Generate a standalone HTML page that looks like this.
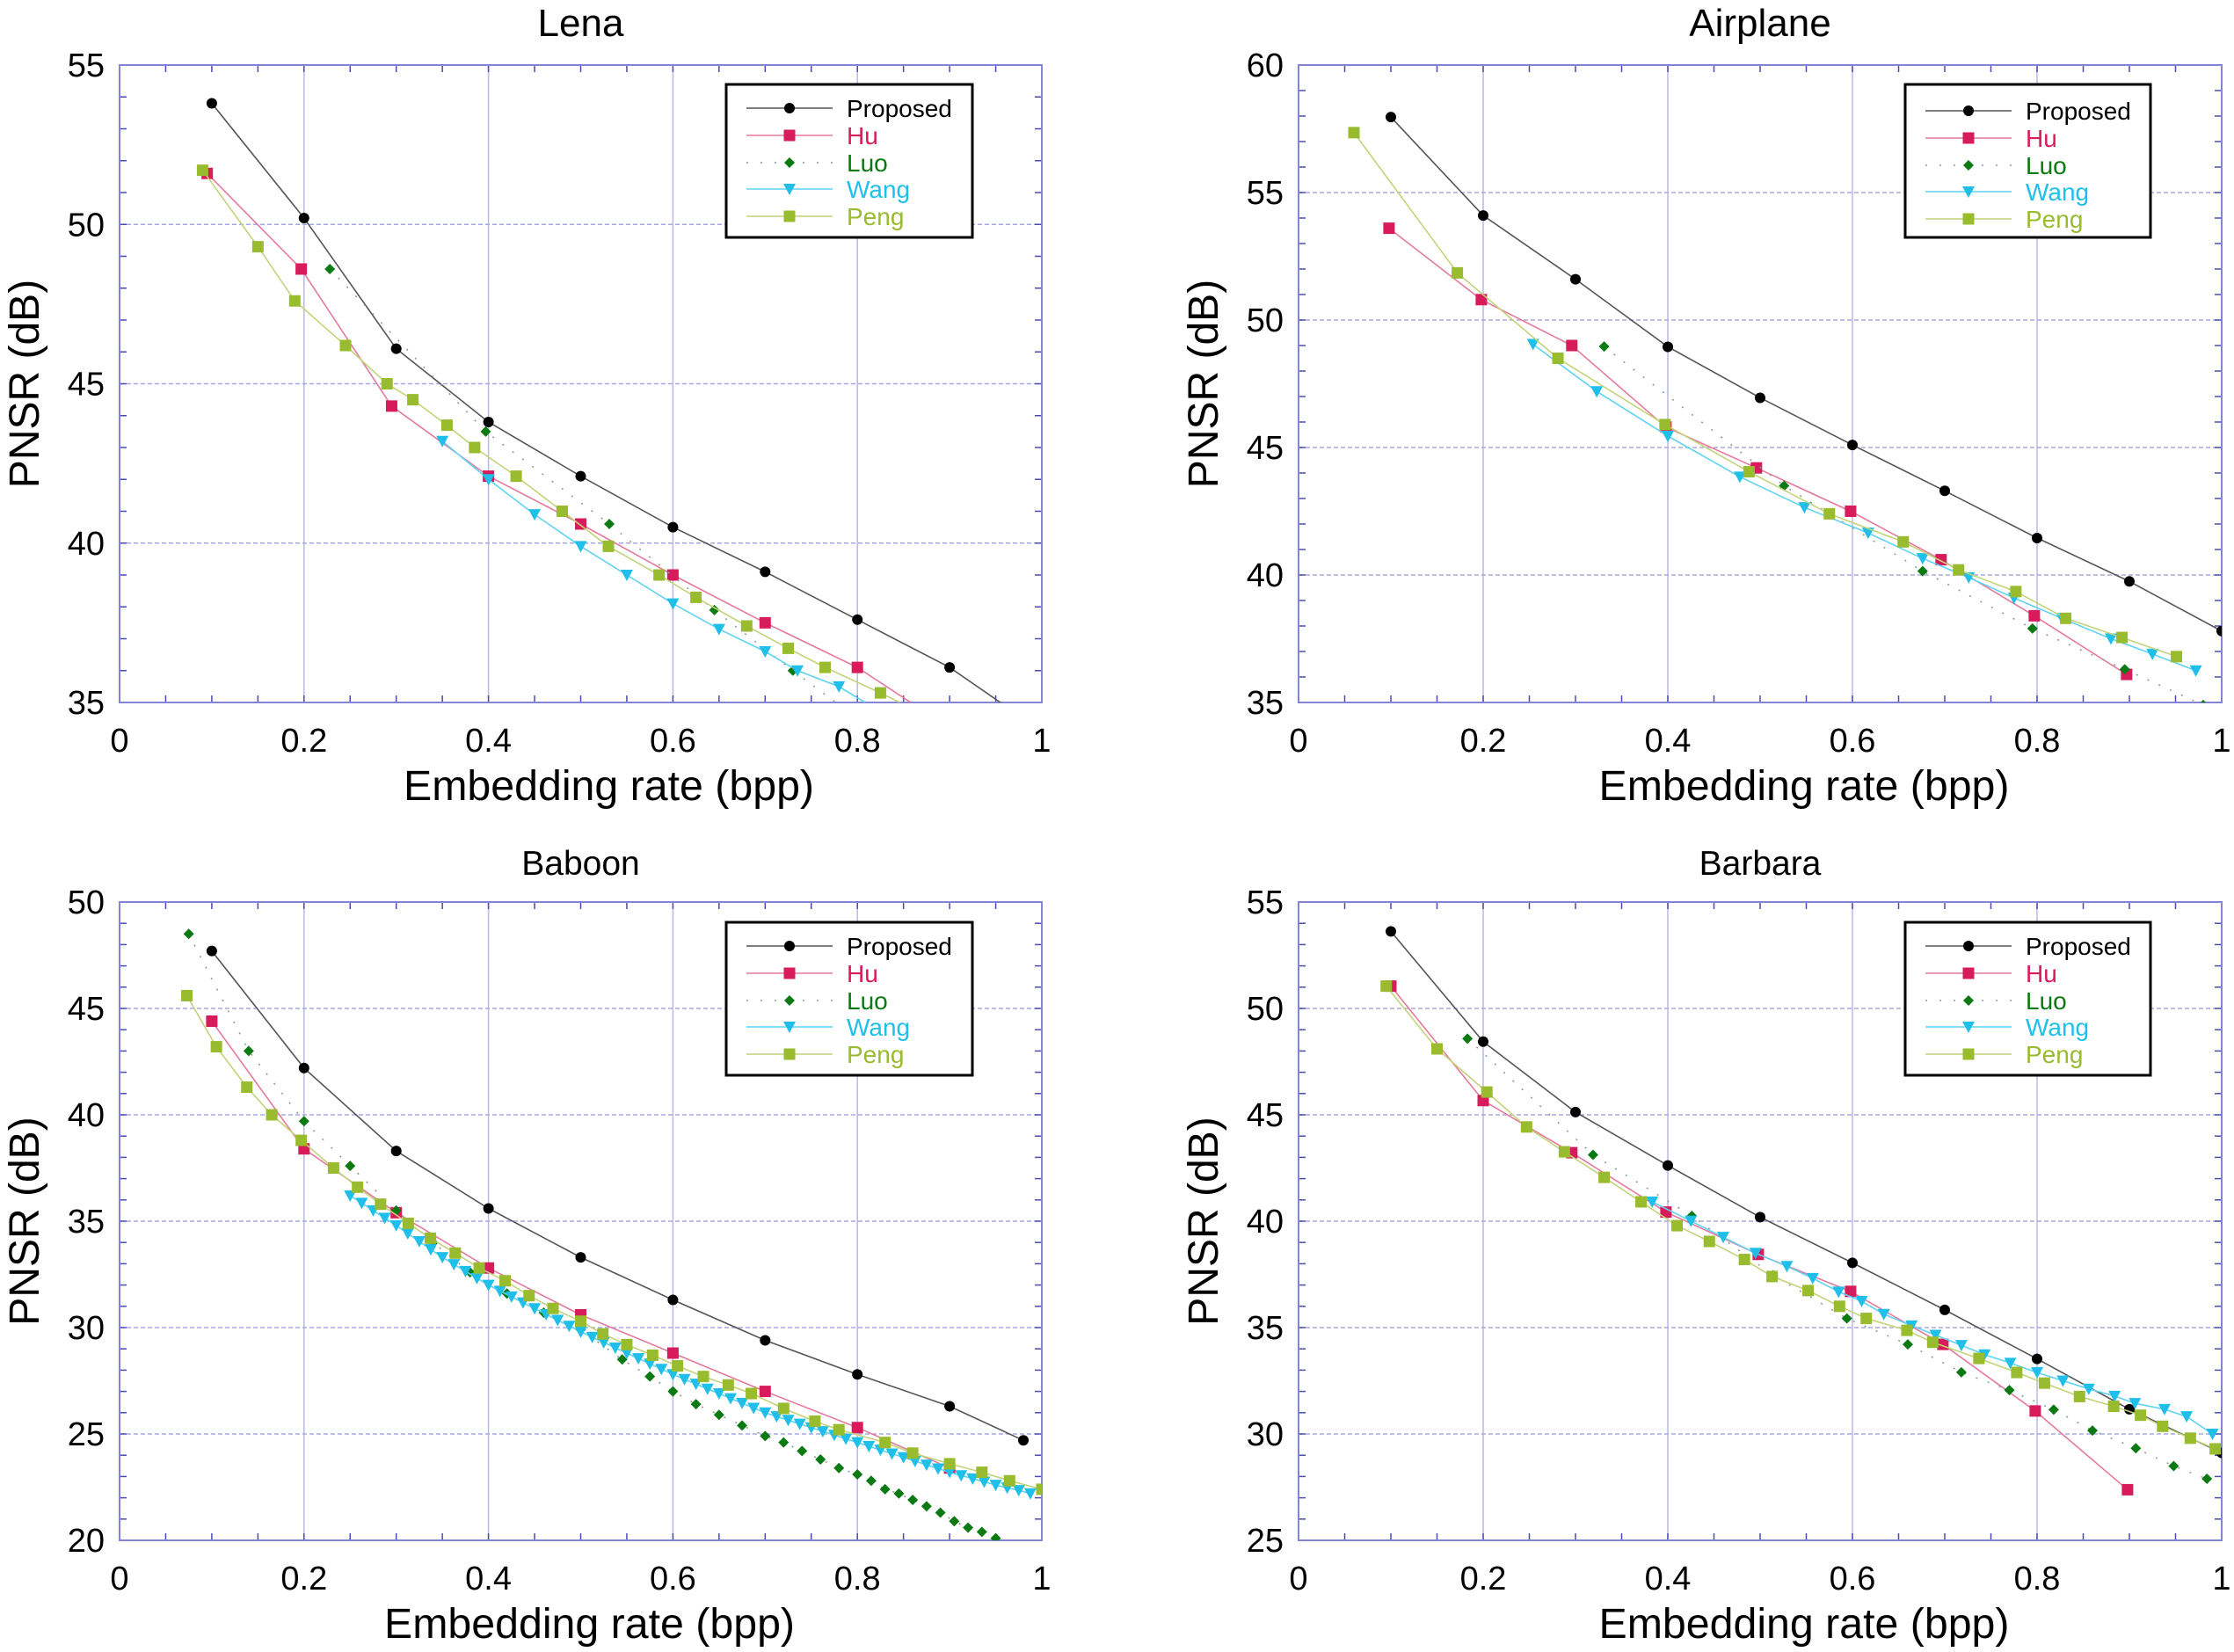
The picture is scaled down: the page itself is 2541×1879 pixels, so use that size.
<!DOCTYPE html>
<html><head><meta charset="utf-8"><style>
html,body{margin:0;padding:0;background:#fff;}
svg{display:block;font-family:"Liberation Sans",Arial,sans-serif;}
</style></head><body>
<svg id="chart" width="2541" height="1879" viewBox="0 0 2541 1879" xmlns="http://www.w3.org/2000/svg"></svg>
<script>
// ---------- DATA ----------
const seriesNames = ["Proposed","Hu","Luo","Wang","Peng"];
// Lena
const lenaProposedX=[0.1,0.2,0.3,0.4,0.5,0.6,0.7,0.8,0.9,1.0];
const lenaProposedY=[53.8,50.2,46.1,43.8,42.1,40.5,39.1,37.6,36.1,34.1];
const lenaHuX=[0.095,0.197,0.295,0.4,0.5,0.6,0.7,0.8,0.9];
const lenaHuY=[51.6,48.6,44.3,42.1,40.6,39.0,37.5,36.1,34.2];
const lenaLuoX=[0.228,0.397,0.531,0.645,0.73,0.8];
const lenaLuoY=[48.6,43.5,40.6,37.9,36.0,34.5];
const lenaWangX=[0.35,0.4,0.45,0.5,0.55,0.6,0.65,0.7,0.735,0.78,0.82];
const lenaWangY=[43.2,42.0,40.9,39.9,39.0,38.1,37.3,36.6,36.0,35.5,34.8];
const lenaPengX=[0.09,0.15,0.19,0.245,0.29,0.318,0.355,0.385,0.43,0.48,0.53,0.585,0.625,0.68,0.725,0.765,0.825,0.86];
const lenaPengY=[51.7,49.3,47.6,46.2,45.0,44.5,43.7,43.0,42.1,41.0,39.9,39.0,38.3,37.4,36.7,36.1,35.3,34.8];
// Airplane
const airProposedX=[0.1,0.2,0.3,0.4,0.5,0.6,0.7,0.8,0.9,1.0];
const airProposedY=[57.96,54.1,51.6,48.95,46.95,45.1,43.3,41.45,39.75,37.8];
const airHuX=[0.098,0.198,0.296,0.398,0.496,0.598,0.696,0.797,0.897];
const airHuY=[53.6,50.8,49.0,45.8,44.2,42.5,40.6,38.4,36.1];
const airLuoX=[0.331,0.526,0.676,0.795,0.895,0.98];
const airLuoY=[48.96,43.5,40.15,37.9,36.3,34.9];
const airWangX=[0.254,0.323,0.4,0.478,0.548,0.617,0.676,0.726,0.775,0.827,0.88,0.925,0.972];
const airWangY=[49.05,47.2,45.45,43.85,42.65,41.65,40.65,39.9,39.1,38.3,37.5,36.9,36.25];
const airPengX=[0.06,0.172,0.281,0.397,0.488,0.575,0.655,0.715,0.777,0.831,0.892,0.951];
const airPengY=[57.35,51.85,48.5,45.9,44.05,42.4,41.3,40.2,39.35,38.3,37.55,36.8];
// Baboon
const babProposedX=[0.1,0.2,0.3,0.4,0.5,0.6,0.7,0.8,0.9,0.98];
const babProposedY=[47.7,42.2,38.3,35.6,33.3,31.3,29.4,27.8,26.3,24.7];
const babHuX=[0.1,0.2,0.3,0.4,0.5,0.6,0.7,0.8,0.9];
const babHuY=[44.4,38.4,35.4,32.8,30.6,28.8,27.0,25.3,23.4];
const babLuoX=[0.075,0.14,0.2,0.25,0.3,0.34,0.38,0.42,0.46,0.5,0.545,0.575,0.6,0.625,0.65,0.675,0.7,0.72,0.74,0.76,0.78,0.8,0.815,0.83,0.845,0.86,0.875,0.89,0.905,0.92,0.935,0.95];
const babLuoY=[48.5,43.0,39.7,37.6,35.5,34.0,32.6,31.6,30.7,29.9,28.5,27.7,27.0,26.4,25.9,25.4,24.9,24.6,24.2,23.8,23.4,23.1,22.8,22.4,22.2,21.9,21.6,21.3,20.9,20.6,20.4,20.1];
const babWangX=[0.25,0.2625,0.275,0.2875,0.3,0.3125,0.325,0.3375,0.35,0.3625,0.375,0.3875,0.4,0.4125,0.425,0.4375,0.45,0.4625,0.475,0.4875,0.5,0.5125,0.525,0.5375,0.55,0.5625,0.575,0.5875,0.6,0.6125,0.625,0.6375,0.65,0.6625,0.675,0.6875,0.7,0.7125,0.725,0.7375,0.75,0.7625,0.775,0.7875,0.8,0.8125,0.825,0.8375,0.85,0.8625,0.875,0.8875,0.9,0.9125,0.925,0.9375,0.95,0.9625,0.975,0.9875];
const babWangY=[36.2,35.85,35.5,35.15,34.8,34.42,34.05,33.67,33.3,32.97,32.65,32.32,32.0,31.72,31.45,31.17,30.9,30.62,30.35,30.07,29.8,29.55,29.3,29.05,28.8,28.55,28.3,28.05,27.8,27.57,27.35,27.12,26.9,26.67,26.45,26.22,26.0,25.82,25.65,25.47,25.3,25.12,24.95,24.77,24.6,24.42,24.25,24.07,23.9,23.72,23.55,23.37,23.2,23.05,22.9,22.75,22.6,22.47,22.35,22.2];
const babPengX=[0.073,0.105,0.138,0.165,0.197,0.232,0.258,0.283,0.313,0.337,0.364,0.39,0.418,0.444,0.47,0.5,0.524,0.55,0.578,0.605,0.633,0.66,0.685,0.72,0.754,0.78,0.83,0.86,0.9,0.935,0.965,1.0];
const babPengY=[45.6,43.2,41.3,40.0,38.8,37.5,36.6,35.8,34.9,34.2,33.5,32.8,32.2,31.5,30.9,30.3,29.7,29.2,28.7,28.2,27.7,27.3,26.9,26.2,25.6,25.2,24.6,24.1,23.6,23.2,22.8,22.4];
// Barbara
const barProposedX=[0.1,0.2,0.3,0.4,0.5,0.6,0.7,0.8,0.9,1.0];
const barProposedY=[53.62,48.44,45.13,42.62,40.19,38.04,35.83,33.53,31.16,29.11];
const barHuX=[0.1,0.2,0.296,0.398,0.498,0.598,0.698,0.798,0.898];
const barHuY=[51.05,45.67,43.22,40.43,38.44,36.7,34.21,31.08,27.38];
const barLuoX=[0.183,0.319,0.426,0.514,0.594,0.66,0.718,0.77,0.818,0.86,0.907,0.948,0.984];
const barLuoY=[48.58,43.12,40.25,37.46,35.43,34.21,32.9,32.06,31.14,30.16,29.33,28.49,27.89];
const barWangX=[0.383,0.425,0.46,0.495,0.529,0.557,0.585,0.61,0.634,0.664,0.69,0.718,0.743,0.771,0.8,0.828,0.856,0.884,0.906,0.938,0.962,0.99];
const barWangY=[40.91,40.01,39.25,38.5,37.88,37.32,36.68,36.24,35.63,35.09,34.65,34.17,33.73,33.33,32.89,32.5,32.12,31.78,31.44,31.16,30.82,30.0];
const barPengX=[0.095,0.15,0.204,0.247,0.288,0.331,0.371,0.41,0.445,0.483,0.513,0.552,0.586,0.615,0.659,0.687,0.737,0.778,0.808,0.846,0.883,0.912,0.936,0.966,0.993];
const barPengY=[51.05,48.1,46.07,44.43,43.26,42.06,40.91,39.79,39.05,38.2,37.4,36.74,36.0,35.43,34.87,34.31,33.55,32.89,32.39,31.76,31.3,30.88,30.36,29.8,29.3];

const lenaYTicks=[35,40,45,50,55];
const airYTicks=[35,40,45,50,55,60];
const babYTicks=[20,25,30,35,40,45,50];
const barYTicks=[25,30,35,40,45,50,55];
const xTicks=[0,0.2,0.4,0.6,0.8,1];
const xTickLabels=["0","0.2","0.4","0.6","0.8","1"];

// ---------- DRAW ----------
const NS="http://www.w3.org/2000/svg";
const svg=document.getElementById('chart');
const colors={Proposed:"#000000",Hu:"#d81b5a",Luo:"#0b7a12",Wang:"#1fbfea",Peng:"#99bb2e"};
const lineColors={Proposed:"#555555",Hu:"#e57a9c",Luo:"#7aa47a",Wang:"#5fd3f2",Peng:"#c2d47a"};
const markers={Proposed:"circle",Hu:"square",Luo:"diamond",Wang:"triangle",Peng:"square"};

function mk(tag,attrs,parent){const e=document.createElementNS(NS,tag);for(const k in attrs)e.setAttribute(k,attrs[k]);(parent||svg).appendChild(e);return e;}

function drawMarker(g,type,x,y,color){
  let m;
  if(type==="circle") m=mk('circle',{cx:x,cy:y,r:6,fill:color},g);
  else if(type==="square") m=mk('rect',{x:x-6.5,y:y-6.5,width:13,height:13,fill:color},g);
  else if(type==="diamond") m=mk('polygon',{points:`${x},${y-6} ${x+6},${y} ${x},${y+6} ${x-6},${y}`,fill:color},g);
  else m=mk('polygon',{points:`${x-7},${y-6} ${x+7},${y-6} ${x},${y+7}`,fill:color},g);
  return m;
}

function panel(id,title,titleSize,titleY,box,yMin,yMax,yTicks,series,legend,xlOff){
  const [L,T,R,B]=box;
  const sx=v=>L+(v-0)*(R-L);
  const sy=v=>B-(v-yMin)/(yMax-yMin)*(B-T);
  const g=mk('g',{});
  
  
  const clipId='clip-'+id;
  const cp=mk('clipPath',{id:clipId},g);mk('rect',{x:L,y:T,width:R-L,height:B-T},cp);
  xTicks.forEach(t=>{ if(t>0&&t<1){const l=mk('line',{x1:sx(t),x2:sx(t),y1:T,y2:B,stroke:"#b9b9e6","stroke-width":1.5},g);
    }});
  yTicks.forEach(t=>{ if(t>yMin&&t<yMax){const l=mk('line',{x1:L,x2:R,y1:sy(t),y2:sy(t),stroke:"#a8a8e0","stroke-width":1.5,"stroke-dasharray":"5,3"},g);
    }});
  for(let i=1;i<20;i++){const x=sx(i*0.05);
    mk('line',{x1:x,x2:x,y1:B,y2:B-8,stroke:"#4a4ab0","stroke-width":1.5},g);
    mk('line',{x1:x,x2:x,y1:T,y2:T+8,stroke:"#4a4ab0","stroke-width":1.5},g);}
  for(let v=yMin+1;v<yMax;v++){const y=sy(v);
    mk('line',{x1:L,x2:L+8,y1:y,y2:y,stroke:"#4a4ab0","stroke-width":1.5},g);
    mk('line',{x1:R,x2:R-8,y1:y,y2:y,stroke:"#4a4ab0","stroke-width":1.5},g);}
  const fr=mk('rect',{x:L,y:T,width:R-L,height:B-T,fill:"none",stroke:"#8484d4","stroke-width":2},g);
  
  xTicks.forEach((t,i)=>{const tx=mk('text',{x:sx(t),y:B+56,"font-size":38,"text-anchor":"middle",fill:"#000"},g);tx.textContent=xTickLabels[i];
    });
  yTicks.forEach(t=>{const tx=mk('text',{x:L-17,y:sy(t)+13,"font-size":38,"text-anchor":"end",fill:"#000"},g);tx.textContent=String(t);
    });
  const tt=mk('text',{x:(L+R)/2,y:titleY,"font-size":titleSize,"text-anchor":"middle",fill:"#000"},g);tt.textContent=title;
  
  const xl=mk('text',{x:(L+R)/2+xlOff,y:B+111,"font-size":48,"text-anchor":"middle",fill:"#000",textLength:467,lengthAdjust:"spacingAndGlyphs"},g);xl.textContent="Embedding rate (bpp)";
  
  const yx=L-92,yy=(T+B)/2;
  const yl=mk('text',{x:yx,y:yy,"font-size":48,"text-anchor":"middle",fill:"#000",transform:`rotate(-90 ${yx} ${yy})`},g);yl.textContent="PNSR (dB)";
  
  const sg=mk('g',{"clip-path":`url(#${clipId})`},g);
  seriesNames.forEach(name=>{
    const [xs,ys]=series[name];
    const pts=xs.map((x,i)=>`${sx(x).toFixed(1)},${sy(ys[i]).toFixed(1)}`).join(' ');
    const attrs={points:pts,fill:"none",stroke:lineColors[name],"stroke-width":1.6};
    if(name==="Luo"){attrs["stroke-dasharray"]="2,12";attrs.stroke="#8aa08a";}
    const pl=mk('polyline',attrs,sg);
    
    
    xs.forEach((x,i)=>{const m=drawMarker(sg,markers[name],sx(x),sy(ys[i]),colors[name]);
      
      });
  });
  const [lx,ly,lw,lh,rows]=legend;
  const lg=mk('g',{},g);
  
  mk('rect',{x:lx,y:ly,width:lw,height:lh,fill:"#fff",stroke:"#000","stroke-width":3},lg);
  seriesNames.forEach((name,i)=>{
    const y=ly+rows[i];
    const la={x1:lx+23,x2:lx+121,y1:y,y2:y,stroke:lineColors[name],"stroke-width":1.6};
    if(name==="Luo"){la["stroke-dasharray"]="2,14";la.stroke="#8aa08a";}
    mk('line',la,lg);
    drawMarker(lg,markers[name],lx+72,y,colors[name]);
    const t=mk('text',{x:lx+137,y:y+10,"font-size":28,fill:colors[name]},lg);t.textContent=name;
    
    
  });
}

const rowsTop=[27,58,89,119,150];
panel('lena','Lena',44,41,[136,74,1185,799],35,55,lenaYTicks,
  {Proposed:[lenaProposedX,lenaProposedY],Hu:[lenaHuX,lenaHuY],Luo:[lenaLuoX,lenaLuoY],Wang:[lenaWangX,lenaWangY],Peng:[lenaPengX,lenaPengY]},
  [826,96,280,174,rowsTop],32);
panel('airplane','Airplane',44,41,[1477,74,2527,799],35,60,airYTicks,
  {Proposed:[airProposedX,airProposedY],Hu:[airHuX,airHuY],Luo:[airLuoX,airLuoY],Wang:[airWangX,airWangY],Peng:[airPengX,airPengY]},
  [2167,96,279,174,[30,61,92,122,153]],50);
panel('baboon','Baboon',39,995,[136,1026,1185,1752],20,50,babYTicks,
  {Proposed:[babProposedX,babProposedY],Hu:[babHuX,babHuY],Luo:[babLuoX,babLuoY],Wang:[babWangX,babWangY],Peng:[babPengX,babPengY]},
  [826,1049,280,174,rowsTop],10);
panel('barbara','Barbara',39,995,[1477,1026,2527,1752],25,55,barYTicks,
  {Proposed:[barProposedX,barProposedY],Hu:[barHuX,barHuY],Luo:[barLuoX,barLuoY],Wang:[barWangX,barWangY],Peng:[barPengX,barPengY]},
  [2167,1049,279,174,rowsTop],50);
</script>
</body></html>
